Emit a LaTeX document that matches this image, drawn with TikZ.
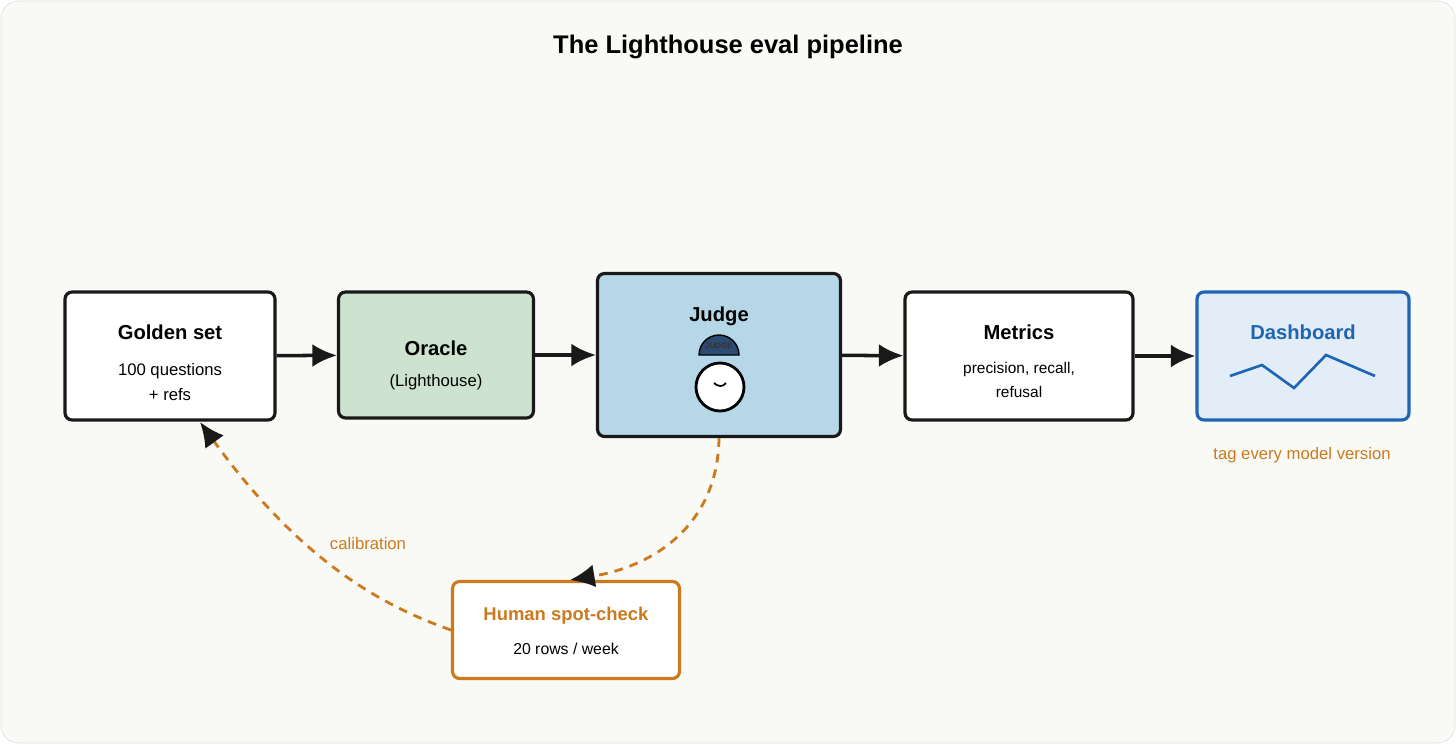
\documentclass[tikz,border=0pt]{standalone}
\usepackage{fontspec}
\setmainfont{Liberation Sans}
\usetikzlibrary{arrows.meta,positioning}
\definecolor{bgc}{HTML}{F9F9F6}
\definecolor{oraclec}{HTML}{CDE3CF}
\definecolor{judgec}{HTML}{B5D7E8}
\definecolor{dashc}{HTML}{E3EDF8}
\definecolor{blueline}{HTML}{1F65B5}
\definecolor{orangec}{HTML}{CC7A1E}
\definecolor{capc}{HTML}{2C4A72}
\tikzset{
  box/.style={draw=black!90, line width=1.8pt, rounded corners=4pt, align=center, inner sep=0pt},
  flow/.style={-{Latex[length=14pt,width=13pt]}, line width=2pt, black!90},
  loop/.style={-{Latex[length=14pt,width=13pt,black!90]}, line width=1.6pt, orangec, dash pattern=on 5pt off 4pt},
}
\begin{document}
\begin{tikzpicture}[x=0.02cm,y=-0.02cm]
  \useasboundingbox (0,0) rectangle (1456,744);
  \draw[fill=bgc, draw=black!12, rounded corners=10pt] (1,1) rectangle (1455,743);
  \node[font=\fontsize{14.5}{17}\selectfont\bfseries] (title) at (728,47) {The Lighthouse eval pipeline};
  % main row
  \node[box, fill=white, minimum width=4.2cm, minimum height=2.56cm] (golden) at (170,356) {};
  \node[font=\fontsize{11.5}{13}\selectfont\bfseries] at (170,332) {Golden set};
  \node[font=\fontsize{9.5}{14}\selectfont, align=center] at (170,382) {100 questions\\+ refs};
  \node[box, fill=oraclec, minimum width=3.9cm, minimum height=2.52cm] (oracle) at (436,355) {};
  \node[font=\fontsize{11.5}{13}\selectfont\bfseries] at (436,348) {Oracle};
  \node[font=\fontsize{9.5}{11}\selectfont] at (436,382) {(Lighthouse)};
  \node[box, fill=judgec, minimum width=4.86cm, minimum height=3.26cm] (judge) at (719,355) {};
  \node[font=\fontsize{11.5}{13}\selectfont\bfseries] at (719,316) {Judge};
  \node[box, fill=white, minimum width=4.56cm, minimum height=2.56cm] (metrics) at (1019,356) {};
  \node[font=\fontsize{11.5}{13}\selectfont\bfseries] at (1019,332) {Metrics};
  \node[font=\fontsize{8.8}{14}\selectfont, align=center] at (1019,380) {precision, recall,\\refusal};
  \node[box, draw=blueline, fill=dashc, minimum width=4.24cm, minimum height=2.56cm] (dash) at (1303,356) {};
  \node[font=\fontsize{11.5}{13}\selectfont\bfseries, text=blueline] at (1303,332) {Dashboard};
  \draw[blueline, line width=1.5pt] (1230,376) -- (1262,365) -- (1294,388) -- (1326,355) -- (1375,376);
  \node[font=\fontsize{9.5}{11}\selectfont, text=orangec] (tag) at (1302,455) {tag every model version};
  % judge figure
  \fill[capc, draw=black, line width=0.8pt] (699,355) arc (180:360:20) -- cycle;
  \node[font=\fontsize{4.5}{5}\selectfont\bfseries, text=black!80] at (719,346) {JUDGE};
  \draw[fill=white, line width=1.6pt] (720,387) circle (24);
  \draw[line width=1pt] (714,383) .. controls (718,387) and (723,387) .. (726,383);
  % human
  \node[box, draw=orangec, fill=white, minimum width=4.54cm, minimum height=1.94cm] (human) at (566,630) {};
  \node[font=\fontsize{10.5}{12}\selectfont\bfseries, text=orangec] at (566,616) {Human spot-check};
  \node[font=\fontsize{9}{11}\selectfont] at (566,649) {20 rows / week};
  \node[font=\fontsize{9.5}{11}\selectfont, text=orangec] (calib) at (368,544) {calibration};
  % connectors
  \draw[flow] (golden) -- (oracle);
  \draw[flow] (oracle) -- (judge);
  \draw[flow] (judge) -- (metrics);
  \draw[flow] (metrics) -- (dash);
  \draw[loop] (judge.south) .. controls (718,520) and (660,565) .. (570,580);
  \draw[loop] (human.west) .. controls (380,605) and (300,560) .. (200,422);
\end{tikzpicture}
\end{document}
